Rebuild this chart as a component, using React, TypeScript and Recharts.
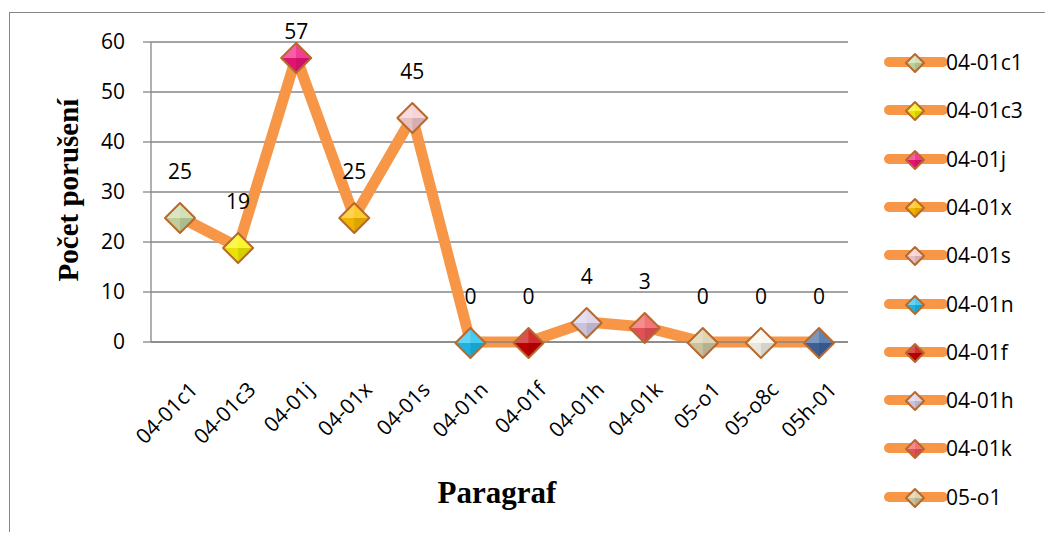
import React from 'react';
import { LineChart, Line, XAxis, YAxis, CartesianGrid, LabelList } from 'recharts';

const categories = ['04-01c1', '04-01c3', '04-01j', '04-01x', '04-01s', '04-01n', '04-01f', '04-01h', '04-01k', '05-o1', '05-o8c', '05h-01'];
const values = [25, 19, 57, 25, 45, 0, 0, 4, 3, 0, 0, 0];
const markerColors = ['#C9DBA5', '#F7F200', '#F0147A', '#FFBF00', '#F7CBCF', '#1DBFEF', '#C80000', '#D8D0EA', '#F0575B', '#D6CDA6', '#F7F6EA', '#3F66A1'];
const yTicks = [0, 10, 20, 30, 40, 50, 60];
// legend in the original is cut after 10 entries
const legendCount = 10;

const data = categories.map((name, i) => ({ name, value: values[i], color: markerColors[i] }));

const LINE = '#F79646';
const GRID = '#868686';
const FONT = '"Open Sans", sans-serif';

function Diamond({ cx, cy, r, color }: { cx: number; cy: number; r: number; color: string }) {
    const t = `${cx},${cy - r}`;
    const ri = `${cx + r},${cy}`;
    const b = `${cx},${cy + r}`;
    const l = `${cx - r},${cy}`;
    const c = `${cx},${cy}`;
    return (
        <g>
            <polygon points={`${t} ${ri} ${b} ${l}`} fill={color} />
            {/* bevel shading */}
            <polygon points={`${t} ${ri} ${c}`} fill="#fff" fillOpacity={0.18} />
            <polygon points={`${l} ${t} ${c}`} fill="#fff" fillOpacity={0.32} />
            <polygon points={`${ri} ${b} ${c}`} fill="#000" fillOpacity={0.14} />
            <polygon points={`${b} ${l} ${c}`} fill="#000" fillOpacity={0.06} />
            <polygon points={`${t} ${ri} ${b} ${l}`} fill="none" stroke="#B8692B" strokeWidth={2} strokeLinejoin="round" />
        </g>
    );
}

const renderDot = (props: any) => {
    const { cx, cy, index, payload } = props;
    return <Diamond key={`dot-${index}`} cx={cx} cy={cy + 1} r={15} color={payload.color} />;
};

const renderLabel = (props: any) => {
    const { x, y, value } = props;
    const cy = Math.max(y - 45, 24);
    return (
        <text x={x} y={cy} dy="0.35em" textAnchor="middle" fontFamily={FONT} fontSize={21} fill="#000">
            {value}
        </text>
    );
};

const XTick = (props: any) => {
    const { x, y, payload } = props;
    const ax = x + 19;
    const ay = y + 41;
    return (
        <text x={ax} y={ay} textAnchor="end" transform={`rotate(-45, ${ax}, ${ay})`} fontFamily={FONT} fontSize={21} fill="#000">
            {payload.value}
        </text>
    );
};

export default function App() {
    return (
        <div style={{ position: 'relative', width: 1045, height: 524, overflow: 'hidden', background: '#fff' }}>
            <div style={{ position: 'absolute', left: 1, top: 4, width: 1200, height: 700, border: `1px solid ${GRID}` }} />
            <LineChart
                width={1045}
                height={524}
                data={data}
                margin={{ top: 34, right: 205, left: 83, bottom: 90 }}
                style={{ position: 'absolute', left: 0, top: 0 }}
            >
                <CartesianGrid vertical={false} stroke={GRID} strokeWidth={1.3} />
                <XAxis
                    dataKey="name"
                    height={100}
                    interval={0}
                    padding={{ left: 29, right: 29 }}
                    tickLine={false}
                    axisLine={{ stroke: GRID, strokeWidth: 1.3 }}
                    tick={<XTick />}
                />
                <YAxis
                    width={60}
                    domain={[0, 60]}
                    ticks={yTicks}
                    tickSize={8}
                    tickMargin={18}
                    axisLine={{ stroke: GRID, strokeWidth: 1.3 }}
                    tickLine={{ stroke: GRID, strokeWidth: 1.3 }}
                    tick={{ fill: '#000', fontFamily: FONT, fontSize: 21 }}
                />
                <Line
                    dataKey="value"
                    type="linear"
                    stroke={LINE}
                    strokeWidth={11}
                    strokeLinejoin="round"
                    dot={renderDot}
                    activeDot={false}
                    isAnimationActive={false}
                >
                    <LabelList dataKey="value" content={renderLabel} />
                </Line>
            </LineChart>

            <div
                style={{
                    position: 'absolute',
                    left: 60,
                    top: 182,
                    transform: 'translate(-50%, -50%) rotate(-90deg)',
                    whiteSpace: 'nowrap',
                    fontFamily: '"Liberation Serif", "Times New Roman", serif',
                    fontWeight: 'bold',
                    fontSize: 29,
                }}
            >
                Počet porušení
            </div>
            <div
                style={{
                    position: 'absolute',
                    left: 489,
                    top: 485,
                    transform: 'translate(-50%, -50%)',
                    whiteSpace: 'nowrap',
                    fontFamily: '"Liberation Serif", "Times New Roman", serif',
                    fontWeight: 'bold',
                    fontSize: 31,
                }}
            >
                Paragraf
            </div>

            {data.slice(0, legendCount).map((d, i) => {
                const cy = 54 + i * 48.3;
                return (
                    <div key={d.name} style={{ position: 'absolute', left: 872, top: cy - 14, height: 28, display: 'flex', alignItems: 'center' }}>
                        <svg width={68} height={28} style={{ display: 'block' }}>
                            <line x1={9} y1={14} x2={63} y2={14} stroke={LINE} strokeWidth={10} strokeLinecap="round" />
                            <Diamond cx={35} cy={15} r={9} color={d.color} />
                        </svg>
                        <span style={{ fontFamily: FONT, fontSize: 21, color: '#000', marginLeft: -2, lineHeight: '28px' }}>{d.name}</span>
                    </div>
                );
            })}
        </div>
    );
}
